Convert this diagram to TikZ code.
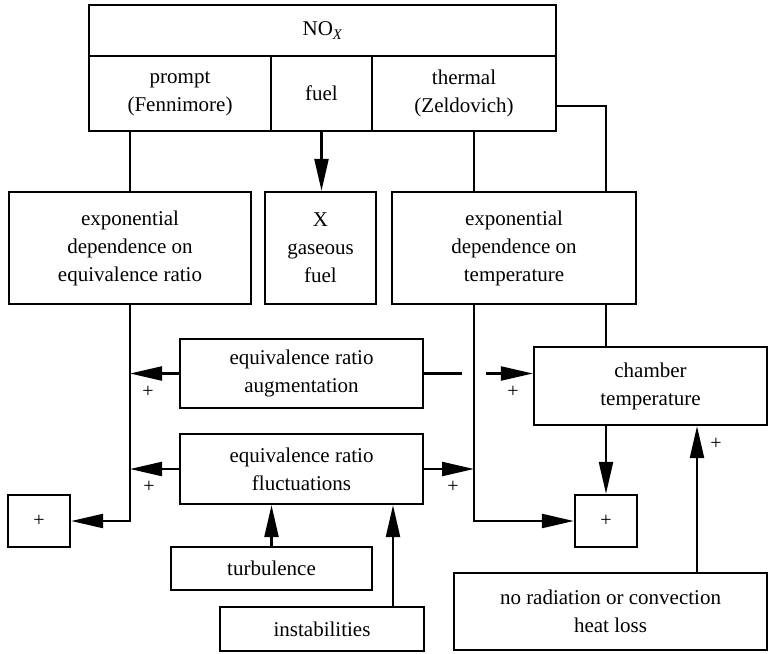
\documentclass[tikz,border=0pt]{standalone}
\usepackage{fontspec}
\setmainfont{Liberation Serif}
\usetikzlibrary{arrows.meta}
\begin{document}
\begin{tikzpicture}[x=1pt,y=-1pt,
  box/.style={draw,line width=2.3pt,rectangle,inner sep=0pt,align=center,
    font=\fontsize{21}{28}\selectfont},
  arr/.style={line width=2.3pt,-{Triangle[length=32pt,width=14pt]}},
  ln/.style={line width=2.3pt},
  pl/.style={font=\fontsize{20}{20}\selectfont,inner sep=0pt}]
\useasboundingbox (0,0) rectangle (768,653);
% top table
\node[box,minimum width=467pt,minimum height=51pt] (nox) at (322.5,30.5) {NO\textsubscript{\itshape X}};
\node[box,minimum width=182pt,minimum height=75pt] (prompt) at (180,93.5) {prompt\\(Fennimore)};
\node[box,minimum width=101pt,minimum height=75pt] (fuel) at (321.5,93.5) {fuel};
\node[box,minimum width=184pt,minimum height=75pt] (thermal) at (464,93.5) {thermal\\(Zeldovich)};
% second row
\node[box,minimum width=242pt,minimum height=112pt] (expL) at (130,248) {exponential\\dependence on\\equivalence ratio};
\node[box,minimum width=111pt,minimum height=112pt] (xfuel) at (320.5,248) {X\\gaseous\\fuel};
\node[box,minimum width=244pt,minimum height=112pt] (expR) at (514,248) {exponential\\dependence on\\temperature};
% middle
\node[box,minimum width=243pt,minimum height=69pt] (aug) at (301.5,373.5) {equivalence ratio\\augmentation};
\node[box,minimum width=243pt,minimum height=70pt] (fluct) at (301.5,469) {equivalence ratio\\fluctuations};
\node[box,minimum width=233pt,minimum height=78pt] (chamber) at (650.5,386) {chamber\\temperature};
\node[box,minimum width=62pt,minimum height=52pt,font=\fontsize{20}{20}\selectfont] (plusL) at (39,521) {+};
\node[box,minimum width=62pt,minimum height=52pt,font=\fontsize{20}{20}\selectfont] (plusR) at (606,521) {+};
\node[box,minimum width=201pt,minimum height=43pt] (turb) at (271.5,568.5) {turbulence};
\node[box,minimum width=204pt,minimum height=44pt] (inst) at (322,629) {instabilities};
\node[box,minimum width=313pt,minimum height=77pt] (norad) at (610.5,611.5) {no radiation or convection\\heat loss};
% helper coordinates
\coordinate (tx) at (474,0);
\coordinate (cx) at (606,0);
\coordinate (nx) at (697,0);
\coordinate (ix) at (393,0);
\coordinate (gapL) at (462,373.5);
\coordinate (gapR) at (486,373.5);
% connectors
\draw[ln] (prompt.south -| expL.north) -- (expL.north);
\draw[arr] (fuel.south) -- (fuel.south |- xfuel.north);
\draw[ln] (tx |- thermal.south) -- (tx |- expR.north);
\draw[ln] ([yshift=-12.5pt]thermal.east) -| (cx |- expR.north);
\draw[ln] (cx |- expR.south) -- (cx |- chamber.north);
\draw[arr] (expL.south) |- (plusL.east);
\draw[arr] (aug.west) -- (aug.west -| expL.south);
\draw[arr] (fluct.west) -- (fluct.west -| expL.south);
\draw[arr] (tx |- expR.south) |- (plusR.west);
\draw[ln] (aug.east) -- (gapL);
\draw[arr] (gapR) -- (gapR -| chamber.west);
\draw[arr] (fluct.east) -- (fluct.east -| tx);
\draw[arr] (cx |- chamber.south) -- (plusR.north);
\draw[arr] (nx |- norad.north) -- (nx |- chamber.south);
\draw[arr] (turb.north) -- (turb.north |- fluct.south);
\draw[arr] (ix |- inst.north) -- (ix |- fluct.south);
% plus labels
\node[pl] (p1) at (148,392) {+};
\node[pl] (p2) at (513,392) {+};
\node[pl] (p3) at (149,487) {+};
\node[pl] (p4) at (453,487) {+};
\node[pl] (p5) at (716,444) {+};
\end{tikzpicture}
\end{document}
